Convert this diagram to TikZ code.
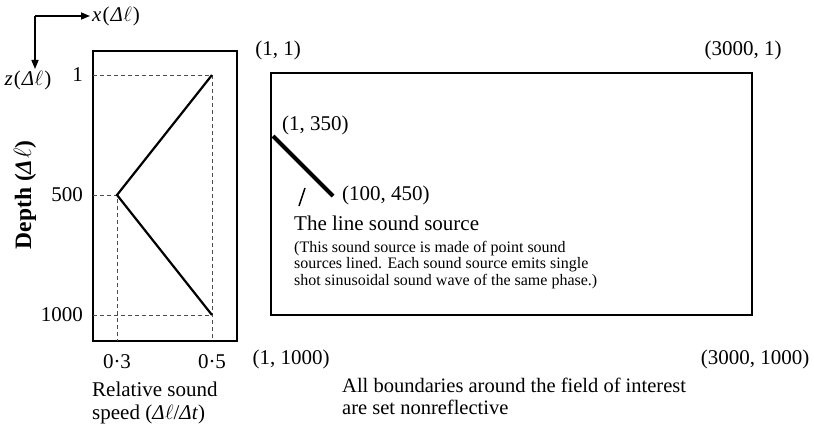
\documentclass[tikz,border=0pt]{standalone}
\usepackage{fontspec}
\setmainfont{Liberation Serif}
\usetikzlibrary{arrows.meta}
\newcommand{\dl}{\textit{Δ}\kern0.5pt$\ell$}
\tikzset{
  lbl/.style={inner sep=0pt, font=\fontsize{21}{23}\selectfont},
  small/.style={inner sep=0pt, font=\fontsize{16}{16.5}\selectfont, align=left},
  guide/.style={line width=0.7pt, dash pattern=on 4pt off 3pt, black!70},
  axisarrow/.style={line width=1.5pt, -{Triangle[length=9pt,width=7pt]}}
}
\begin{document}
\begin{tikzpicture}[x=1pt,y=-1pt]
\useasboundingbox (0,0) rectangle (814,428);
% axes
\coordinate (o) at (35,16);
\coordinate (xe) at (90,16);
\coordinate (ze) at (35,69);
\draw[axisarrow] (o) -- (xe);
\draw[axisarrow] (o) -- (ze);
\node[lbl, anchor=west] (xl) at (92,16) {\textit{x}\kern1pt(\kern1pt\dl\kern1pt)};
\node[lbl] (zl) at (28,80) {\textit{z}\kern1pt(\kern1pt\dl\kern1pt)};
% left box
\draw[line width=2.6pt] (93,51) rectangle (237,341);
\coordinate (a1) at (212,75);
\coordinate (a2) at (117,195);
\coordinate (a3) at (212,315);
\draw[guide] (93,75) -- (a1) -- (212,341);
\draw[guide] (93,195) -- (a2) -- (117,341);
\draw[guide] (93,315) -- (a3);
\draw[line width=2.2pt] (a1) -- (a2) -- (a3);
\node[lbl, anchor=east] (t1) at (83,75) {1};
\node[lbl, anchor=east] (t500) at (83,195) {500};
\node[lbl, anchor=east] (t1000) at (83,315) {1000};
\node[lbl, rotate=90, font=\fontsize{23.5}{25}\selectfont\bfseries] (depth) at (25,195) {Depth (\dl)};
\node[lbl] (x03) at (117,362) {0·3};
\node[lbl] (x05) at (212,362) {0·5};
\node[lbl, anchor=west, align=left, font=\fontsize{21}{23}\selectfont] (rel) at (92,403) {Relative sound\\speed (\dl/\textit{Δt})};
% right box
\draw[line width=1.7pt] (271,73) rectangle (752,315);
\node[lbl] (c11) at (278,50) {(1, 1)};
\node[lbl] (c31) at (743,50) {(3000, 1)};
\node[lbl] (c1k) at (291,359) {(1, 1000)};
\node[lbl] (c3k) at (755,359) {(3000, 1000)};
% source line
\coordinate (s1) at (273,136);
\coordinate (s2) at (333,196);
\draw[line width=4pt] (s1) -- (s2);
\node[lbl, anchor=west] (l350) at (282,125) {(1, 350)};
\node[lbl, anchor=west] (l450) at (342,195) {(100, 450)};
\coordinate (p1) at (299,206);
\coordinate (p2) at (305,188);
\draw[line width=1.5pt] (p1) -- (p2);
\node[lbl, anchor=west] (src) at (294,223) {The line sound source};
\node[small, anchor=west] (desc) at (294,265) {(This sound source is made of point sound\\sources lined. Each sound source emits single\\shot sinusoidal sound wave of the same phase.)};
\node[lbl, anchor=west, align=left, font=\fontsize{20.5}{22}\selectfont] (bnd) at (342,396) {All boundaries around the field of interest\\are set nonreflective};
\end{tikzpicture}
\end{document}
